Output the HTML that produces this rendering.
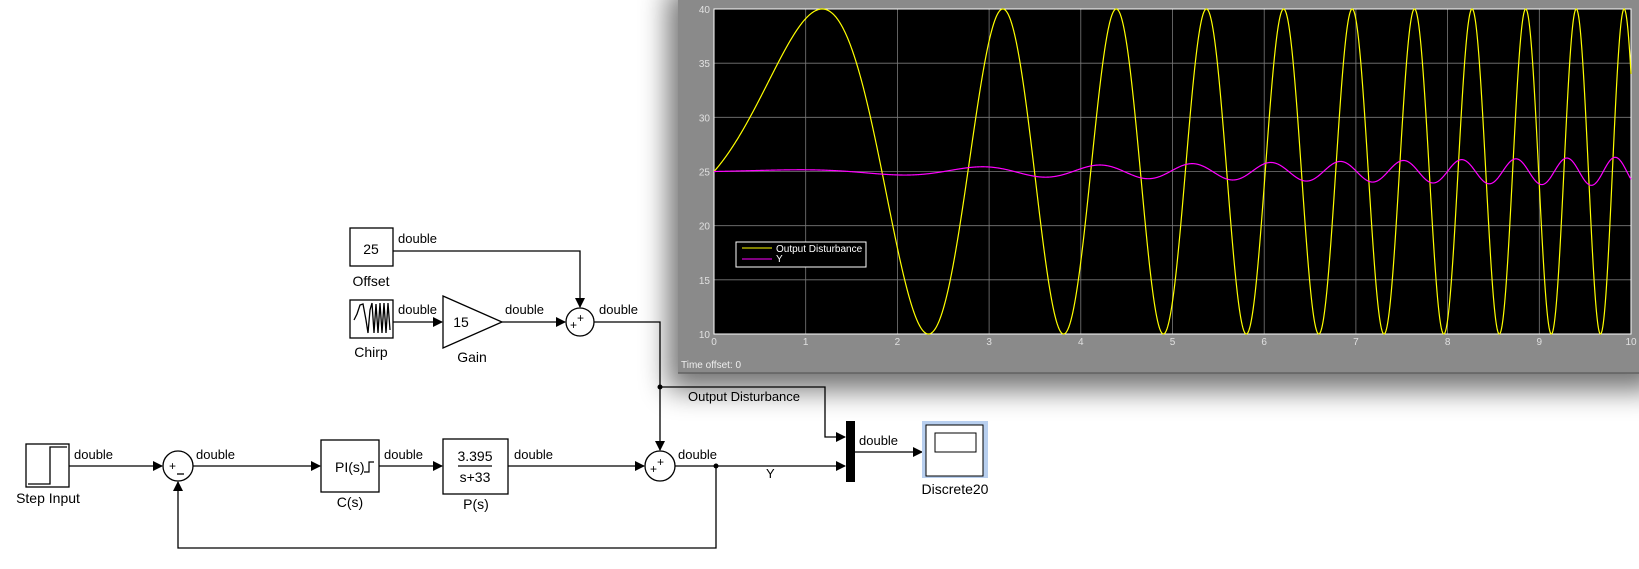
<!DOCTYPE html>
<html><head><meta charset="utf-8"><style>
html,body{margin:0;padding:0;background:#fff;width:1639px;height:569px;overflow:hidden}
svg{position:absolute;left:0;top:0}
text{font-family:"Liberation Sans",Arial,sans-serif}
</style></head><body>
<svg width="1639" height="569" viewBox="0 0 1639 569">
<defs>
<marker id="ar" markerWidth="10" markerHeight="10" refX="9" refY="5" orient="auto" markerUnits="userSpaceOnUse"><path d="M0,0 L10,5 L0,10 z" fill="#000"/></marker>
<filter id="sh" x="-10%" y="-10%" width="130%" height="150%"><feGaussianBlur stdDeviation="14"/></filter>
</defs>
<g fill="none" stroke="#000" stroke-width="1.3">
<line x1="69" y1="466" x2="162" y2="466" marker-end="url(#ar)"/>
<line x1="193" y1="466" x2="320" y2="466" marker-end="url(#ar)"/>
<line x1="379" y1="466" x2="442" y2="466" marker-end="url(#ar)"/>
<line x1="508" y1="466" x2="644" y2="466" marker-end="url(#ar)"/>
<line x1="675" y1="466" x2="845" y2="466" marker-end="url(#ar)"/>
<polyline points="716,466 716,548 178,548 178,482" marker-end="url(#ar)"/>
<polyline points="393,251 580,251 580,307" marker-end="url(#ar)"/>
<line x1="393" y1="322" x2="442" y2="322" marker-end="url(#ar)"/>
<line x1="502" y1="322" x2="565" y2="322" marker-end="url(#ar)"/>
<polyline points="594,322 660,322 660,450" marker-end="url(#ar)"/>
<polyline points="660,387 825,387 825,437 845,437" marker-end="url(#ar)"/>
<line x1="855" y1="452" x2="922" y2="452" marker-end="url(#ar)"/>
</g>
<circle cx="660" cy="387" r="2.5"/><circle cx="716" cy="466" r="2.5"/>
<g fill="#fff" stroke="#000" stroke-width="1.3">
<rect x="26" y="444" width="43" height="43"/>
<circle cx="178" cy="466" r="15"/>
<rect x="321" y="440" width="58" height="52"/>
<rect x="443" y="439" width="65" height="55"/>
<circle cx="660" cy="466" r="15"/>
<rect x="350" y="228" width="43" height="38"/>
<rect x="350" y="300" width="43" height="38"/>
<polygon points="443,296 502,322 443,348"/>
<circle cx="580" cy="322" r="14"/>
</g>
<polyline points="28,484 50,484 50,447 67,447" fill="none" stroke="#000" stroke-width="1.3"/>
<rect x="846" y="421" width="9" height="61" fill="#000"/>
<rect x="922" y="421" width="66" height="57" fill="#b8cfef"/>
<rect x="926" y="425" width="57" height="51" fill="#fff" stroke="#000" stroke-width="1"/>
<rect x="935" y="433" width="41" height="19" fill="#fff" stroke="#000" stroke-width="1"/>
<polyline points="354,320 357,314 360,305 363,304 366,320 368,333 370,310 372,303 374,333 376,304 378,333 380,303 382,333 384,303 386,333 388,303 390,330" fill="none" stroke="#000" stroke-width="1.3"/>
<g font-size="13" fill="#000">
<text x="74" y="459">double</text><text x="196" y="459">double</text><text x="384" y="459">double</text><text x="514" y="459">double</text><text x="678" y="459">double</text>
<text x="398" y="243">double</text><text x="398" y="314">double</text><text x="505" y="314">double</text><text x="599" y="314">double</text>
<text x="859" y="445">double</text>
<text x="688" y="401">Output Disturbance</text><text x="766" y="478">Y</text>
<text x="48" y="503" text-anchor="middle" font-size="14">Step Input</text>
<text x="350" y="507" text-anchor="middle" font-size="14">C(s)</text>
<text x="476" y="509" text-anchor="middle" font-size="14">P(s)</text>
<text x="371" y="286" text-anchor="middle" font-size="14">Offset</text>
<text x="371" y="357" text-anchor="middle" font-size="14">Chirp</text>
<text x="472" y="362" text-anchor="middle" font-size="14">Gain</text>
<text x="955" y="494" text-anchor="middle" font-size="14">Discrete20</text>
<text x="371" y="254" text-anchor="middle" font-size="14">25</text>
<text x="461" y="327" text-anchor="middle" font-size="14">15</text>
<text x="475" y="461" text-anchor="middle" font-size="14">3.395</text>
<line x1="458" y1="466" x2="492" y2="466" stroke="#000" stroke-width="1.2"/>
<text x="475" y="482" text-anchor="middle" font-size="14">s+33</text>
<text x="335" y="472" font-size="14">PI(s)</text>
<polyline points="364,472 369,472 369,462 374,462" fill="none" stroke="#000" stroke-width="1.2"/>
<text x="169" y="470" font-size="12">+</text>
<line x1="177" y1="474" x2="184" y2="474" stroke="#000" stroke-width="1.3"/>
<text x="570" y="329" font-size="12">+</text><text x="577" y="322" font-size="12">+</text>
<text x="650" y="473" font-size="12">+</text><text x="657" y="466" font-size="12">+</text>
</g>
<rect x="668" y="-10" width="990" height="400" fill="#000" opacity="0.55" filter="url(#sh)"/>
<rect x="678" y="0" width="961" height="373" fill="#8a8a8a"/>
<line x1="678" y1="373" x2="1639" y2="373" stroke="#5a5a5a" stroke-width="1.2"/>
<rect x="714" y="9" width="917" height="325" fill="#000"/>
<g id="grid" stroke="#7a7a7a" stroke-width="0.8"></g>
<rect x="714" y="9" width="917" height="325" fill="none" stroke="#fff" stroke-width="1"/>
<g id="ticks" font-size="10" fill="#e0e0e0"></g>
<polyline id="yel" fill="none" stroke="#ffff00" stroke-width="1.2"/>
<polyline id="mag" fill="none" stroke="#ff00ff" stroke-width="1.2"/>
<rect x="736" y="242" width="130" height="25" fill="#000" stroke="#fff" stroke-width="1"/>
<line x1="742" y1="248" x2="772" y2="248" stroke="#ffff00"/>
<line x1="742" y1="259" x2="772" y2="259" stroke="#ff00ff"/>
<text x="776" y="252" font-size="10" fill="#fff">Output Disturbance</text>
<text x="776" y="262" font-size="10" fill="#fff">Y</text>
<text x="681" y="368" font-size="10" fill="#eee">Time offset:   0</text>
</svg>
<script>
var ns="http://www.w3.org/2000/svg";
var X0=714,W=917,Y0=9,H=325;
function px(t){return X0+t*W/10}function py(v){return Y0+(40-v)*H/30}
var g=document.getElementById('grid'),tk=document.getElementById('ticks');
for(var i=1;i<10;i++){var l=document.createElementNS(ns,'line');l.setAttribute('x1',px(i));l.setAttribute('x2',px(i));l.setAttribute('y1',Y0);l.setAttribute('y2',Y0+H);g.appendChild(l);}
for(var v=15;v<40;v+=5){var l=document.createElementNS(ns,'line');l.setAttribute('x1',X0);l.setAttribute('x2',X0+W);l.setAttribute('y1',py(v));l.setAttribute('y2',py(v));g.appendChild(l);}
for(var i=0;i<=10;i++){var t=document.createElementNS(ns,'text');t.setAttribute('x',px(i));t.setAttribute('y',345);t.setAttribute('text-anchor','middle');t.textContent=i;tk.appendChild(t);}
for(var v=10;v<=40;v+=5){var t=document.createElementNS(ns,'text');t.setAttribute('x',710);t.setAttribute('y',py(v)+4);t.setAttribute('text-anchor','end');t.textContent=v;tk.appendChild(t);}
var a=0.636,b=0.5897,py1=[],pm=[];
for(var k=0;k<=3000;k++){var t=k/300;var ph=a*t+b*t*t;var w=a+2*b*t;
py1.push(px(t).toFixed(2)+','+py(25+15*Math.sin(ph)).toFixed(2));
var lag=0.8/(1+0.1*w);var amp=0.107*w*(1-Math.exp(-t*3));
pm.push(px(t).toFixed(2)+','+py(25+amp*Math.cos(ph-lag)).toFixed(2));}
document.getElementById('yel').setAttribute('points',py1.join(' '));
document.getElementById('mag').setAttribute('points',pm.join(' '));
</script>
</body></html>
